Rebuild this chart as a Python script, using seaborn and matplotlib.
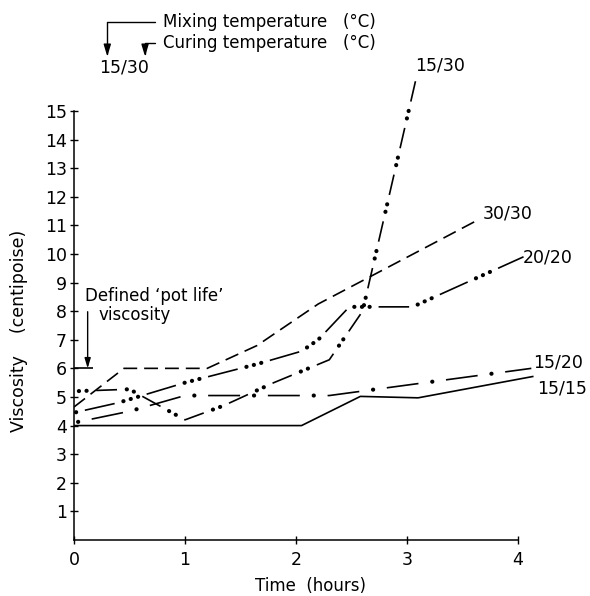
import matplotlib
matplotlib.use("Agg")
import matplotlib.pyplot as plt
import seaborn as sns

# values: time (hours) vs viscosity (centipoise)
# labels are mixing / curing temperature (deg C)
hours_15_15 = [0.0, 2.05, 2.58, 3.1, 4.14]
visc_15_15 = [4.0, 4.0, 5.02, 4.97, 5.72]

hours_15_20 = [0.0, 0.5, 1.0, 2.3, 4.12]
visc_15_20 = [4.1, 4.5, 5.05, 5.05, 6.0]

hours_20_20 = [0.0, 0.4, 1.0, 1.65, 2.05, 2.2, 2.48, 3.05, 4.05]
visc_20_20 = [4.45, 4.8, 5.5, 6.15, 6.6, 7.0, 8.15, 8.15, 9.9]

hours_30_30 = [0.0, 0.45, 1.2, 1.65, 2.2, 3.62]
visc_30_30 = [4.65, 6.0, 6.0, 6.8, 8.25, 11.15]

hours_15_30 = [0.0, 0.5, 1.0, 1.35, 1.8, 2.3, 2.6, 3.08]
visc_15_30 = [5.2, 5.27, 4.2, 4.7, 5.5, 6.3, 8.0, 16.1]

pot_life = 6.0
x_ticks = [0, 1, 2, 3, 4]
y_ticks = list(range(1, 16))

sns.set_style("ticks")
plt.rcParams["font.family"] = ["DejaVu Sans"]
plt.rcParams["lines.scale_dashes"] = False
for k in ["text.color", "axes.labelcolor", "xtick.color", "ytick.color"]:
    plt.rcParams[k] = "black"

fig = plt.figure(figsize=(5.9, 5.96), dpi=100)
ax = fig.add_axes([74 / 590, 56 / 596, 510.6 / 590, 472 / 596])


def draw(x, y, dash=None, gap=0.0, n_dots=0, spacing=0.0, shift=0.0):
    sns.lineplot(x=x, y=y, ax=ax, color="black", lw=1.2, estimator=None, sort=False)
    line = ax.lines[-1]
    line.set_solid_capstyle("butt")
    if dash is None:
        return
    if n_dots == 0:
        line.set_linestyle((shift, (dash, gap)))
        line.set_dash_capstyle("butt")
        return
    period = dash + 2 * gap + (n_dots - 1) * spacing
    line.set_linestyle((shift % period, (dash, period - dash)))
    line.set_dash_capstyle("butt")
    # the round dots between the dashes, drawn as a thicker second line
    sns.lineplot(x=x, y=y, ax=ax, color="black", lw=3.0, estimator=None, sort=False)
    dots = ax.lines[-1]
    seq = [0.1, spacing - 0.1] * (n_dots - 1) + [0.1, period - 0.1 - (n_dots - 1) * spacing]
    dots.set_linestyle(((shift - dash - gap) % period, seq))
    dots.set_dash_capstyle("round")


draw(hours_15_15, visc_15_15)
draw(hours_15_20, visc_15_20, dash=23, gap=10, n_dots=1, shift=30)
draw(hours_20_20, visc_20_20, dash=22, gap=6.5, n_dots=3, spacing=5.5, shift=38)
draw(hours_30_30, visc_30_30, dash=10, gap=5)
draw(hours_15_30, visc_15_30, dash=15, gap=7, n_dots=2, spacing=5.5, shift=18.5)

# defined pot life marker
ax.hlines(pot_life, 0, 0.17, color="black", lw=1.2)
ax.annotate("", xy=(0.123, pot_life), xytext=(0.123, 7.98),
            arrowprops=dict(arrowstyle="-|>,head_length=0.6,head_width=0.18",
                            color="black", lw=1, shrinkA=0, shrinkB=0))
ax.text(0.10, 8.53, "Defined ‘pot life’", fontsize=12, va="center", ha="left")
ax.text(0.22, 7.87, "viscosity", fontsize=12, va="center", ha="left")

# curve labels
lab_kw = dict(fontsize=12.5, va="center", ha="left", clip_on=False)
ax.text(3.07, 16.6, "15/30", **lab_kw)
ax.text(3.68, 11.43, "30/30", **lab_kw)
ax.text(4.04, 9.86, "20/20", **lab_kw)
ax.text(4.14, 6.19, "15/20", **lab_kw)
ax.text(4.17, 5.28, "15/15", **lab_kw)

# key for the curve labels
arrow_kw = dict(arrowstyle="-|>,head_length=0.6,head_width=0.18", color="black",
                lw=1, shrinkA=3, shrinkB=0, relpos=(0, 0.5),
                connectionstyle="angle,angleA=0,angleB=90,rad=0")
ax.annotate("Mixing temperature   (°C)", xy=(0.30, 16.9), xytext=(0.80, 18.1),
            fontsize=12, va="center", ha="left", arrowprops=arrow_kw,
            annotation_clip=False)
ax.annotate("Curing temperature   (°C)", xy=(0.64, 16.9), xytext=(0.80, 17.38),
            fontsize=12, va="center", ha="left", arrowprops=arrow_kw,
            annotation_clip=False)
ax.text(0.23, 16.5, "15/30", fontsize=12.5, va="center", ha="left", clip_on=False)

ax.set_xlim(0, 4.6)
ax.set_ylim(0, 16.5)
ax.set_xticks(x_ticks)
ax.set_yticks(y_ticks)
ax.tick_params(direction="inout", length=6, width=1, labelsize=12.5, color="black")
ax.tick_params(axis="y", pad=2)
ax.tick_params(axis="x", pad=5)
sns.despine(ax=ax)
ax.spines["left"].set_bounds(0, 15)
ax.spines["bottom"].set_bounds(0, 4)
for s in ["left", "bottom"]:
    ax.spines[s].set_linewidth(1.1)
    ax.spines[s].set_color("black")

ax.set_xlabel("Time  (hours)", fontsize=12)
ax.set_ylabel("Viscosity    (centipoise)", fontsize=12.5)
ax.xaxis.set_label_coords(0.464, -0.078)
ax.yaxis.set_label_coords(-0.09, 0.443)

fig.savefig("out.png", dpi=100)
